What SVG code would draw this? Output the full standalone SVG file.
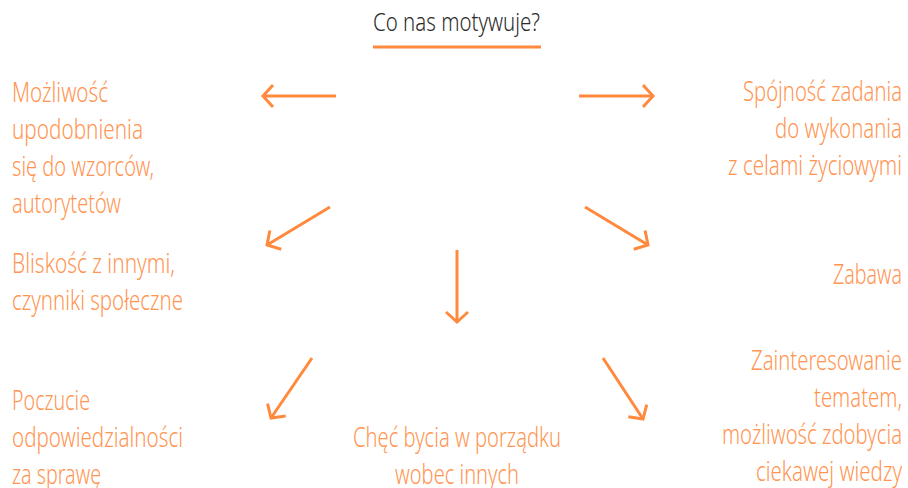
<svg xmlns="http://www.w3.org/2000/svg" width="908" height="488" viewBox="0 0 908 488">
<style>
  .lbl { font-family: "Noto Sans", "DejaVu Sans Condensed", sans-serif; font-stretch: 62.5%; font-weight: 300; font-size: 27px; fill: #FF9552; }
  .r { text-anchor: end; }
  .c { text-anchor: middle; }
  .ttl { font-family: "Noto Sans", "DejaVu Sans Condensed", sans-serif; font-stretch: 62.5%; font-weight: 300; font-size: 25px; fill: #2b2b2b; text-anchor: middle; }
  .conn line { stroke: #FF8A3D; stroke-width: 3; fill: none; marker-end: url(#chev); }
</style>
<defs>
  <marker id="chev" markerUnits="userSpaceOnUse" markerWidth="30" markerHeight="30" viewBox="-15 -15 30 30" refX="0" refY="0" orient="auto">
    <path d="M-10,-11 L0,0 L-10,11" fill="none" stroke="#FF8A3D" stroke-width="3" stroke-linecap="butt" stroke-linejoin="miter"/>
  </marker>
</defs>
<rect width="908" height="488" fill="#ffffff"/>
<g id="title">
  <text class="ttl" x="456.5" y="31" textLength="167" lengthAdjust="spacingAndGlyphs">Co nas motywuje?</text>
  <line x1="373" y1="47" x2="541" y2="47" stroke="#FF8A3D" stroke-width="3"/>
</g>
<g id="n-wzorce">
  <text class="lbl" x="12" y="102" textLength="96" lengthAdjust="spacingAndGlyphs">Możliwość</text>
  <text class="lbl" x="12" y="139" textLength="131" lengthAdjust="spacingAndGlyphs">upodobnienia</text>
  <text class="lbl" x="12" y="176" textLength="142" lengthAdjust="spacingAndGlyphs">się do wzorców,</text>
  <text class="lbl" x="12" y="213" textLength="109" lengthAdjust="spacingAndGlyphs">autorytetów</text>
</g>
<g id="n-bliskosc">
  <text class="lbl" x="12" y="273" textLength="163" lengthAdjust="spacingAndGlyphs">Bliskość z innymi,</text>
  <text class="lbl" x="12" y="310" textLength="171" lengthAdjust="spacingAndGlyphs">czynniki społeczne</text>
</g>
<g id="n-odpowiedzialnosc">
  <text class="lbl" x="12" y="410" textLength="78" lengthAdjust="spacingAndGlyphs">Poczucie</text>
  <text class="lbl" x="12" y="447" textLength="171" lengthAdjust="spacingAndGlyphs">odpowiedzialności</text>
  <text class="lbl" x="12" y="483.5" textLength="89" lengthAdjust="spacingAndGlyphs">za sprawę</text>
</g>
<g id="n-porzadek">
  <text class="lbl c" x="457" y="447" textLength="208" lengthAdjust="spacingAndGlyphs">Chęć bycia w porządku</text>
  <text class="lbl c" x="457" y="483.5" textLength="124" lengthAdjust="spacingAndGlyphs">wobec innych</text>
</g>
<g id="n-spojnosc">
  <text class="lbl r" x="902" y="101" textLength="159" lengthAdjust="spacingAndGlyphs">Spójność zadania</text>
  <text class="lbl r" x="902" y="138" textLength="127" lengthAdjust="spacingAndGlyphs">do wykonania</text>
  <text class="lbl r" x="902" y="175" textLength="174" lengthAdjust="spacingAndGlyphs">z celami życiowymi</text>
</g>
<g id="n-zabawa">
  <text class="lbl r" x="902" y="284" textLength="69" lengthAdjust="spacingAndGlyphs">Zabawa</text>
</g>
<g id="n-zainteresowanie">
  <text class="lbl r" x="902" y="370" textLength="151" lengthAdjust="spacingAndGlyphs">Zainteresowanie</text>
  <text class="lbl r" x="902" y="407" textLength="88" lengthAdjust="spacingAndGlyphs">tematem,</text>
  <text class="lbl r" x="902" y="444" textLength="180" lengthAdjust="spacingAndGlyphs">możliwość zdobycia</text>
  <text class="lbl r" x="902" y="481" textLength="146" lengthAdjust="spacingAndGlyphs">ciekawej wiedzy</text>
</g>
<g id="connectors" class="conn">
  <line x1="336" y1="96" x2="263" y2="96"/>
  <line x1="579" y1="96" x2="653" y2="96"/>
  <line x1="330" y1="207" x2="267" y2="245"/>
  <line x1="585" y1="207" x2="648" y2="245"/>
  <line x1="457" y1="250" x2="457" y2="322"/>
  <line x1="312" y1="358" x2="271" y2="418"/>
  <line x1="603" y1="358" x2="643" y2="419"/>
</g>
</svg>
